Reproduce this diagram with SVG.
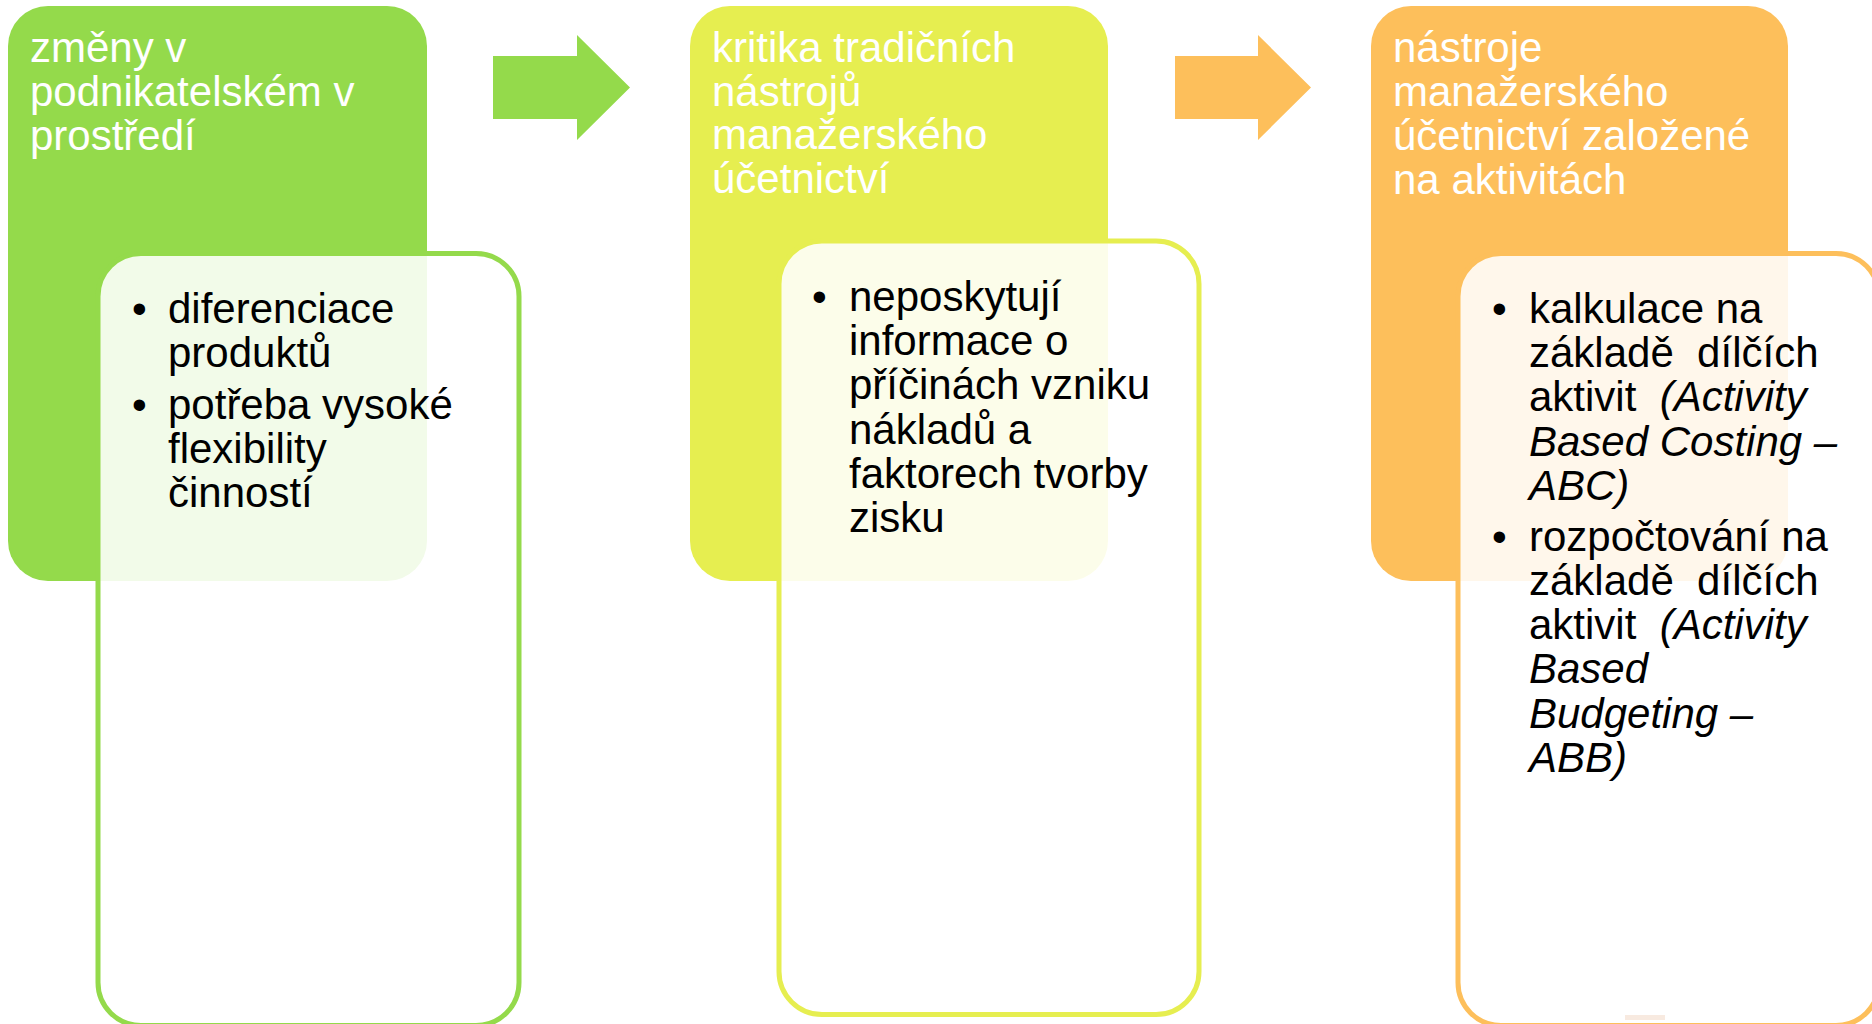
<svg xmlns="http://www.w3.org/2000/svg" width="1872" height="1024" viewBox="0 0 1872 1024">
  <style>
    .hdr { font-family: "Liberation Sans", Arial, sans-serif; font-size: 42px; fill: #FFFFFF; }
    .txt { font-family: "Liberation Sans", Arial, sans-serif; font-size: 42px; fill: #000000; }
    .it { font-style: italic; }
    .box { stroke-width: 5; }
  </style>
  <rect x="0" y="0" width="1872" height="1024" fill="#FFFFFF"/>

  <g id="connectors">
    <path d="M493,56 H577 V35 L630,87.5 L577,140 V119 H493 Z" fill="#94DA4B"/>
    <path d="M1175,56 H1258 V35 L1311,87.5 L1258,140 V119 H1175 Z" fill="#FDBF5B"/>
  </g>

  <g id="node-zmeny">
    <rect x="8" y="6" width="419" height="575" rx="40" ry="40" fill="#94DA4B"/>
    <text class="hdr" x="30" y="62">změny v</text>
    <text class="hdr" x="30" y="106">podnikatelském v</text>
    <text class="hdr" x="30" y="150">prostředí</text>
  </g>
  <g id="node-zmeny-detail">
    <rect class="box" x="98" y="253.5" width="421" height="772" rx="43" ry="43" fill="#FFFFFF" fill-opacity="0.88" stroke="#94DA4B"/>
    <text class="txt" x="132" y="323.3">•</text>
    <text class="txt" x="168" y="323.3">diferenciace</text>
    <text class="txt" x="168" y="367">produktů</text>
    <text class="txt" x="132" y="418.5">•</text>
    <text class="txt" x="168" y="418.5">potřeba vysoké</text>
    <text class="txt" x="168" y="462.5">flexibility</text>
    <text class="txt" x="168" y="506.5">činností</text>
  </g>

  <g id="node-kritika">
    <rect x="690" y="6" width="418" height="575" rx="40" ry="40" fill="#E6EE50"/>
    <text class="hdr" x="712" y="62">kritika tradičních</text>
    <text class="hdr" x="712" y="105.5">nástrojů</text>
    <text class="hdr" x="712" y="149">manažerského</text>
    <text class="hdr" x="712" y="193">účetnictví</text>
  </g>
  <g id="node-kritika-detail">
    <rect class="box" x="779" y="241" width="420" height="773.5" rx="43" ry="43" fill="#FFFFFF" fill-opacity="0.88" stroke="#E6EE50"/>
    <text class="txt" x="812" y="310.7">•</text>
    <text class="txt" x="849" y="310.7">neposkytují</text>
    <text class="txt" x="849" y="355">informace o</text>
    <text class="txt" x="849" y="399.3">příčinách vzniku</text>
    <text class="txt" x="849" y="443.6">nákladů a</text>
    <text class="txt" x="849" y="487.9">faktorech tvorby</text>
    <text class="txt" x="849" y="532.2">zisku</text>
  </g>

  <g id="node-nastroje">
    <rect x="1371" y="6" width="417" height="575" rx="40" ry="40" fill="#FDBF5B"/>
    <text class="hdr" x="1393" y="62">nástroje</text>
    <text class="hdr" x="1393" y="106">manažerského</text>
    <text class="hdr" x="1393" y="150">účetnictví založené</text>
    <text class="hdr" x="1393" y="194">na aktivitách</text>
  </g>
  <g id="node-nastroje-detail">
    <rect class="box" x="1458" y="253.5" width="421" height="772" rx="43" ry="43" fill="#FFFFFF" fill-opacity="0.88" stroke="#FDBF5B"/>
    <text class="txt" x="1492" y="323.3">•</text>
    <text class="txt" x="1529" y="323.3">kalkulace na</text>
    <text class="txt" x="1529" y="367.3" xml:space="preserve">základě  dílčích</text>
    <text class="txt" x="1529" y="411.3" xml:space="preserve">aktivit  <tspan class="it">(Activity</tspan></text>
    <text class="txt it" x="1529" y="455.5">Based Costing –</text>
    <text class="txt it" x="1529" y="499.5">ABC)</text>
    <text class="txt" x="1492" y="550.8">•</text>
    <text class="txt" x="1529" y="550.8">rozpočtování na</text>
    <text class="txt" x="1529" y="595" xml:space="preserve">základě  dílčích</text>
    <text class="txt" x="1529" y="639.2" xml:space="preserve">aktivit  <tspan class="it">(Activity</tspan></text>
    <text class="txt it" x="1529" y="683.4">Based</text>
    <text class="txt it" x="1529" y="727.6">Budgeting –</text>
    <text class="txt it" x="1529" y="771.8">ABB)</text>
    <rect x="1625" y="1015" width="40" height="5" fill="#F8EAE0"/>
  </g>
</svg>
